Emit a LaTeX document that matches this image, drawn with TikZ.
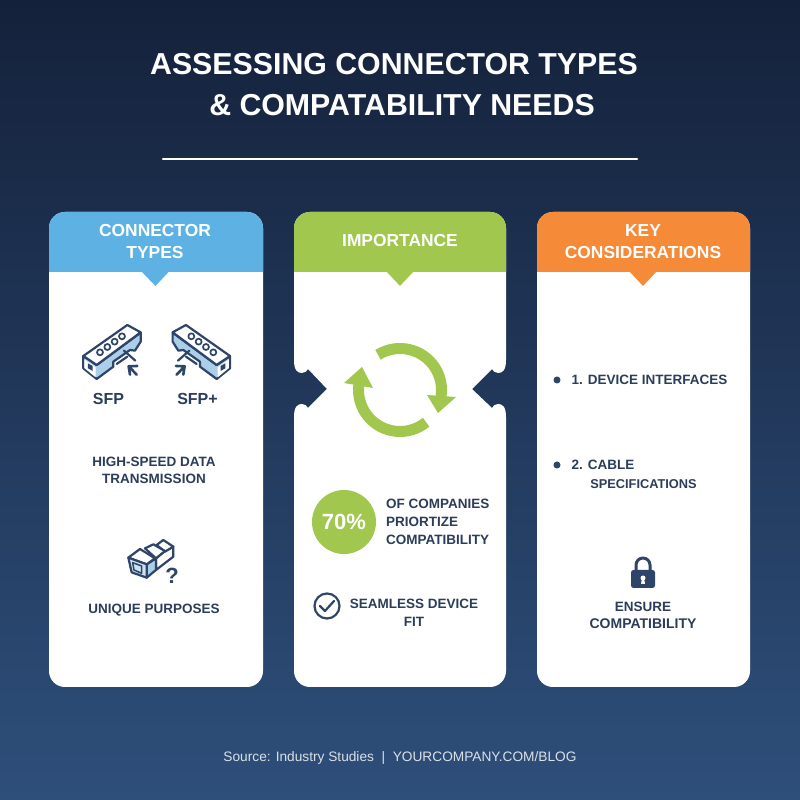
\documentclass[tikz,border=0pt]{standalone}
\usepackage{fontspec}
\setmainfont{Liberation Sans}
\usepackage{tikz}
\definecolor{bgtop}{rgb}{0.08,0.13,0.23}
\definecolor{bgbot}{rgb}{0.18,0.31,0.48}
\definecolor{hdrblue}{rgb}{0.37,0.70,0.89}
\definecolor{hdrgreen}{rgb}{0.63,0.78,0.31}
\definecolor{hdrorange}{rgb}{0.96,0.54,0.22}
\definecolor{inkdark}{rgb}{0.17,0.24,0.35}
\definecolor{iconline}{rgb}{0.18,0.27,0.41}
\definecolor{iconfill}{rgb}{0.67,0.81,0.91}
\definecolor{footgray}{rgb}{0.86,0.88,0.91}
\tikzset{
  ttl/.style={text=white,font=\fontsize{30.3}{36}\selectfont\bfseries},
  hdr/.style={text=white,font=\fontsize{17.4}{20}\selectfont\bfseries},
  body/.style={text=inkdark,font=\fontsize{13.5}{16}\selectfont\bfseries},
  sfplabel/.style={text=inkdark,font=\fontsize{16}{18}\selectfont\bfseries},
  icon/.style={draw=iconline,line width=2.2pt}
}
% isometric module, local units are a third of a pixel
\newcommand{\sfpicon}{
\filldraw[icon,fill=iconfill] (100,168) -- (140,195) -- (272,98) -- (272,125) -- (255,152) -- (240,150) -- (190,185) -- (190,200) -- (140,237) -- (100,205) -- cycle;
\filldraw[icon,fill=white] (100,168) -- (232,75) -- (272,97) -- (140,195) -- cycle;
\fill[white] (103,178) -- (137,202) -- (137,232) -- (103,204) -- cycle;
\fill[iconline] (114,190) -- (128,198) -- (128,213) -- (114,205) -- cycle;
\foreach \k in {0,1,2,3} {\draw[icon,line width=1.7pt] (150+22*\k,157-16*\k) circle (9);}
\draw[icon] (200,192) -- (232,170);
\draw[icon] (222,152) -- (256,182);
\draw[icon,line width=2.6pt] (260,224) -- (236,199) (262,198) -- (236,199) -- (240,224);
}
\begin{document}
\begin{tikzpicture}[line cap=round,line join=round,x=1pt,y=1pt]
\useasboundingbox (0,0) rectangle (800,800);
\shade[top color=bgtop,bottom color=bgbot] (0,0) rectangle (800,800);
% title
\node[ttl] (ttlone) at (394,736) {ASSESSING CONNECTOR TYPES};
\node[ttl] (ttltwo) at (402,695) {\& COMPATABILITY NEEDS};
\coordinate (divl) at (163,641);
\coordinate (divr) at (637,641);
\draw[white,line width=2.5pt] (divl) -- (divr);
% left card
\fill[white,rounded corners=16pt] (49,113) rectangle (263,588);
\fill[hdrblue] (49,528) [rounded corners=16pt] -- (49,588) -- (263,588) [sharp corners] -- (263,528) -- (168.500,528) -- (155.500,514) -- (142,528) -- cycle;
\node[hdr] (hdrconn) at (155,569) {CONNECTOR};
\node[hdr] (hdrtypes) at (155,547) {TYPES};
\begin{scope}[shift={(50,500)},x=0.3333pt,y=-0.3333pt]
\sfpicon
\end{scope}
\begin{scope}[shift={(263.300,500)},x=-0.3333pt,y=-0.3333pt]
\sfpicon
\end{scope}
\node[sfplabel] (sfp) at (108.500,401) {SFP};
\node[sfplabel] (sfpplus) at (197.500,401) {SFP+};
\node[body] (highspeed) at (154,338) {HIGH-SPEED DATA};
\node[body] (transm) at (154,321) {TRANSMISSION};
\begin{scope}[shift={(90,270)},x=0.3333pt,y=-0.3333pt]
\filldraw[icon,fill=white] (198,85) -- (225,63) -- (250,50) -- (250,80) -- (198,120) -- cycle;
\filldraw[icon,fill=white] (200,45) -- (220,30) -- (250,50) -- (225,65) -- cycle;
\filldraw[icon,fill=white] (165,55) -- (190,43) -- (225,63) -- (198,85) -- cycle;
\filldraw[icon,fill=iconfill] (170,103) -- (198,85) -- (198,120) -- (170,143) -- cycle;
\filldraw[icon,fill=white] (115,83) -- (150,57) -- (195,85) -- (170,103) -- cycle;
\filldraw[icon,fill=iconfill!60] (115,83) -- (170,103) -- (170,143) -- (125,127) -- cycle;
\draw[icon,line width=1.5pt] (128,98) -- (155,108) -- (155,130) -- (132,120) -- cycle;
\end{scope}
\node[text=iconline,font=\fontsize{22}{24}\selectfont\bfseries] (qmark) at (172,224) {?};
\node[body] (unique) at (154,190) {UNIQUE PURPOSES};
% middle card with the two notches
\fill[white] (310,113) -- (490,113) arc[start angle=-90,end angle=0,radius=16pt] -- (506,383) .. controls (506,394) and (502,396) .. (498,396) .. controls (495,396) and (493,394) .. (492,392) -- (472,411) -- (492,431) .. controls (493,429) and (495,427) .. (498,427) .. controls (502,427) and (506,429) .. (506,440) -- (506,572) arc[start angle=0,end angle=90,radius=16pt] -- (310,588) arc[start angle=90,end angle=180,radius=16pt] -- (294,440) .. controls (294,429) and (298,427) .. (302,427) .. controls (305,427) and (307,429) .. (308,431) -- (327,411) -- (308,392) .. controls (307,394) and (305,396) .. (302,396) .. controls (298,396) and (294,394) .. (294,383) -- (294,129) arc[start angle=180,end angle=270,radius=16pt] -- cycle;
\fill[hdrgreen] (294,528) [rounded corners=16pt] -- (294,588) -- (506,588) [sharp corners] -- (506,528) -- (413,528) -- (400,514) -- (387,528) -- cycle;
\node[hdr] (hdrimp) at (400,559) {IMPORTANCE};
\draw[hdrgreen,line width=11pt,line cap=butt] (400,410) ++(122:41.5pt) arc[start angle=122,end angle=-9,radius=41.5pt];
\fill[hdrgreen] (427,405) -- (456,403) -- (438,387) -- cycle;
\draw[hdrgreen,line width=11pt,line cap=butt] (400,410) ++(-51:41.5pt) arc[start angle=-51,end angle=-187,radius=41.5pt];
\fill[hdrgreen] (344,417) -- (362,433) -- (373,412) -- cycle;
\node[circle,fill=hdrgreen,minimum size=64pt,inner sep=0pt,text=white,font=\fontsize{22}{24}\selectfont\bfseries] (pct) at (344,278) {70\%};
\node[body,anchor=west] (ofcomp) at (382.500,296) {OF COMPANIES};
\node[body,anchor=west] (prior) at (382.500,278) {PRIORTIZE};
\node[body,anchor=west] (compat) at (382.500,260) {COMPATIBILITY};
\node[circle,draw=iconline,line width=2.2pt,minimum size=25pt,inner sep=0pt] (chk) at (327,194) {};
\draw[iconline,line width=2.2pt] (320,194) -- (325,189) -- (334,199);
\node[body] (seamless) at (414,196) {SEAMLESS DEVICE};
\node[body] (fit) at (414,178) {FIT};
% right card
\fill[white,rounded corners=16pt] (537,113) rectangle (750,588);
\fill[hdrorange] (537,528) [rounded corners=16pt] -- (537,588) -- (750,588) [sharp corners] -- (750,528) -- (656,528) -- (643,514) -- (630,528) -- cycle;
\node[hdr] (hdrkey) at (643,569) {KEY};
\node[hdr] (hdrcons) at (643,547) {CONSIDERATIONS};
\node[circle,fill=iconline,minimum size=7pt,inner sep=0pt] (bulone) at (557,420) {};
\node[body,anchor=west] (devint) at (568,420) {1. DEVICE INTERFACES};
\node[circle,fill=iconline,minimum size=7pt,inner sep=0pt] (bultwo) at (557,335) {};
\node[body,anchor=west] (cable) at (568,335) {2. CABLE};
\node[body,font=\fontsize{12.8}{16}\selectfont\bfseries] (specs) at (643.500,316) {SPECIFICATIONS};
\draw[iconline,line width=3pt] (636,228) -- (636,235) arc[start angle=180,end angle=0,radius=7pt] -- (650,228);
\fill[iconline,rounded corners=2.500pt] (631,212) rectangle (655,230);
\fill[white] (643,222) circle (2.5pt);
\fill[white] (642,222) -- (644,222) -- (645,216) -- (641,216) -- cycle;
\node[body] (ensure) at (643,193) {ENSURE};
\node[body,font=\fontsize{14}{16}\selectfont\bfseries] (ensurecomp) at (643,176) {COMPATIBILITY};
% footer
\node[text=footgray,font=\fontsize{13.7}{16}\selectfont] (source) at (400,42) {Source: Industry Studies \ | \ YOURCOMPANY.COM/BLOG};
\end{tikzpicture}
\end{document}
